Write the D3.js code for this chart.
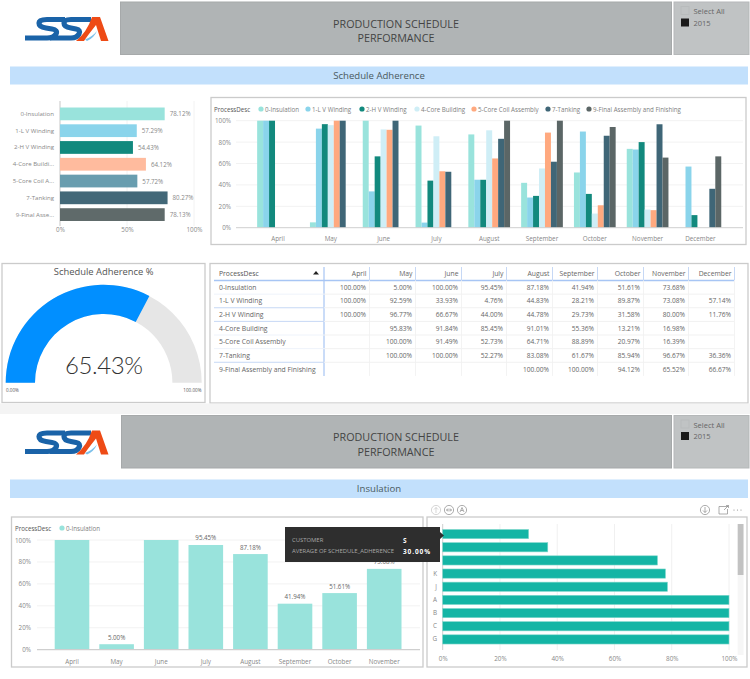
<!DOCTYPE html>
<html>
<head>
<meta charset="utf-8">
<script src="https://cdn.jsdelivr.net/npm/d3@7"></script>
<style>
    body { margin: 0; background: #fff; }
    svg { display: block; }
    text { font-family: "Open Sans", sans-serif; fill: #777; }
</style>
</head>
<body>
<div class="chart"></div>
<script>
// Data
const months = ["April", "May", "June", "July", "August", "September", "October", "November", "December"]
const processes = ["0-Insulation", "1-L V Winding", "2-H V Winding", "4-Core Building", "5-Core Coil Assembly", "7-Tanking", "9-Final Assembly and Finishing"]
const shortNames = ["0-Insulation", "1-L V Winding", "2-H V Winding", "4-Core Buildi...", "5-Core Coil A...", "7-Tanking", "9-Final Asse..."]
const averages = [78.12, 57.29, 54.43, 64.12, 57.72, 80.27, 78.13]
const insulation = [100, 5, 100, 95.45, 87.18, 41.94, 51.61, 73.68, null]
const lvWinding = [100, 92.59, 33.93, 4.76, 44.83, 28.21, 89.87, 73.08, 57.14]
const hvWinding = [100, 96.77, 66.67, 44, 44.78, 29.73, 31.58, 80, 11.76]
const coreBuilding = [null, 95.83, 91.84, 85.45, 91.01, 55.36, 13.21, 16.98, null]
const coilAssembly = [null, 100, 91.49, 52.73, 64.71, 88.89, 20.97, 16.39, null]
const tanking = [null, 100, 100, 52.27, 83.08, 61.67, 85.94, 96.67, 36.36]
const finalAssembly = [null, null, null, null, 100, 100, 94.12, 65.52, 66.67]
const adherence = 65.43
const customers = ["S", "", " ", "K", "J", "A", "B", "C", "G"]
const customerValues = [30, 36.7, 75, 77.8, 78.5, 100, 100, 100, 100]
const percentTicks = [0, 20, 40, 60, 80, 100]

const series = [insulation, lvWinding, hvWinding, coreBuilding, coilAssembly, tanking, finalAssembly]
const colors = ["#99E3DC", "#8AD4EB", "#12897D", "#CFEEF6", "#FFA97F", "#3F6677", "#5B6666"]
const avgColors = ["#99E3DC", "#8AD4EB", "#12897D", "#FFBB9E", "#689DAF", "#436878", "#5F6A6A"]
const pct = d => d3.format(".2f")(d) + "%"

let svg = d3.select(".chart")
    .append("svg")
    .attr("width", 750)
    .attr("height", 679)

function label(g, x, y, str, size, anchor, color) {
    return g.append("text")
        .attr("x", x)
        .attr("y", y)
        .attr("text-anchor", anchor || "start")
        .attr("dominant-baseline", "central")
        .attr("font-size", size)
        .style("fill", color || "#808080")
        .text(str)
}

function panel(x, y, w, h) {
    svg.append("rect")
        .attr("x", x).attr("y", y)
        .attr("width", w).attr("height", h)
        .attr("fill", "#fff")
        .attr("stroke", "#cbcbcb")
        .attr("stroke-width", 1.3)
}

function logo(dy) {
    let g = svg.append("g").attr("transform", `translate(0, ${dy})`)
    g.append("path")
        .attr("d", "M65,19.5 L47,19.5 Q39,19.5 39,23 Q39,27 46,28 L52,29 Q58,30 56,34 Q54,38 47,38 L25,38")
        .attr("fill", "none").attr("stroke", "#1A63A8").attr("stroke-width", 5.2)
    g.append("path")
        .attr("d", "M91,19.5 L71,19.5 Q64,19.5 64,23 Q64,27 71,28 L76,29 Q81,30 79,34 Q77,38 71,38 L50,38")
        .attr("fill", "none").attr("stroke", "#1A63A8").attr("stroke-width", 5.2)
    g.append("path")
        .attr("d", "M92,17 L100,17 L108.5,41 L101,41 L96,25 Q88,35 84,41 L76,41 Q87,32 92,17Z")
        .attr("fill", "#EE4B16")
    g.append("path")
        .attr("d", "M85,39.5 Q92,37 97,31 Q94,38 87,41Z")
        .attr("fill", "#7CC0EA")
}

function header(top, left) {
    svg.append("rect").attr("x", left).attr("y", top)
        .attr("width", 671.5 - left).attr("height", 52.5)
        .attr("fill", "#B0B4B5").attr("stroke", "#A6A9AA")
    svg.append("rect").attr("x", 674).attr("y", top)
        .attr("width", 75).attr("height", 52.5)
        .attr("fill", "#C0C3C4").attr("stroke", "#B5B8B9")
    label(svg, 396, top + 21.5, "PRODUCTION SCHEDULE", 10.75, "middle", "#444")
    label(svg, 396, top + 36, "PERFORMANCE", 10.75, "middle", "#444")
    label(svg, 693.5, top + 9, "Select All", 7.5, "start", "#666")
    label(svg, 693.5, top + 20.5, "2015", 7.5, "start", "#666")
    svg.append("rect").attr("x", 681).attr("y", top + 4.5).attr("width", 8).attr("height", 8)
        .attr("fill", "none").attr("stroke", "#b8bbbc")
    svg.append("rect").attr("x", 681).attr("y", top + 16.5).attr("width", 8).attr("height", 8)
        .attr("fill", "#1a1a1a")
}

function band(top, h, str) {
    svg.append("rect").attr("x", 10).attr("y", top)
        .attr("width", 738).attr("height", h)
        .attr("fill", "#C2E0FC")
    label(svg, 379, top + h / 2, str, 9.6, "middle", "#4a5a60")
}

function cleanAxis(g, size) {
    g.select(".domain").remove()
    g.selectAll("line").remove()
    g.selectAll("text").attr("font-size", size).style("fill", "#888")
}

// Gridlines, baseline and percent axis for the column charts
function columnFrame(yScale, x1, x2, labelX) {
    svg.append("g")
        .selectAll("line")
        .data(percentTicks.slice(1))
        .enter()
        .append("line")
        .attr("x1", x1).attr("x2", x2)
        .attr("y1", d => yScale(d)).attr("y2", d => yScale(d))
        .attr("stroke", "#f2f2f2")
    svg.append("g")
        .attr("transform", `translate(${labelX}, 0)`)
        .call(d3.axisLeft(yScale).tickValues(percentTicks).tickFormat(d => d + "%").tickSize(0).tickPadding(0))
        .call(cleanAxis, 6.3)
}

// ---------- First dashboard ----------
logo(0)
header(2, 120.5)
band(66.5, 18, "Schedule Adherence")

// Average adherence bars
let avgX = d3.scaleLinear().domain([0, 100]).range([60, 194])
let avgY = d3.scaleBand().domain(processes).range([105.5, 223]).paddingInner(0.24).paddingOuter(0.12)

svg.append("g")
    .selectAll("line")
    .data([50, 100])
    .enter()
    .append("line")
    .attr("x1", d => avgX(d)).attr("x2", d => avgX(d))
    .attr("y1", 101).attr("y2", 226)
    .attr("stroke", "#f2f2f2")
svg.append("line").attr("x1", 60).attr("x2", 60).attr("y1", 101).attr("y2", 226)
    .attr("stroke", "#d0d0d0").attr("stroke-width", 1.2)
svg.append("g")
    .selectAll("rect")
    .data(processes)
    .enter()
    .append("rect")
    .attr("x", avgX(0))
    .attr("y", d => avgY(d))
    .attr("width", (d, i) => avgX(averages[i]) - avgX(0))
    .attr("height", avgY.bandwidth())
    .attr("fill", (d, i) => avgColors[i])
svg.append("g")
    .selectAll("text")
    .data(processes)
    .enter()
    .append("text")
    .attr("x", (d, i) => avgX(averages[i]) + 5)
    .attr("y", d => avgY(d) + avgY.bandwidth() / 2)
    .attr("dominant-baseline", "central")
    .attr("font-size", 6.2)
    .style("fill", "#888")
    .text((d, i) => pct(averages[i]))
svg.append("g")
    .attr("transform", "translate(54, 0)")
    .call(d3.axisLeft(avgY).tickFormat((d, i) => shortNames[i]).tickSize(0).tickPadding(0))
    .call(cleanAxis, 6.1)
svg.append("g")
    .attr("transform", "translate(0, 228)")
    .call(d3.axisBottom(avgX).tickValues([0, 50, 100]).tickFormat(d => d + "%").tickSize(0).tickPadding(0))
    .call(cleanAxis, 6.3)

// Clustered columns per month
panel(211, 97.5, 535, 147)
let monthX = d3.scaleBand().domain(months).range([251.6, 726.8]).paddingInner(0.21).paddingOuter(0.105)
let seriesX = d3.scaleBand().domain(processes).range([0, monthX.bandwidth()])
let clusterY = d3.scaleLinear().domain([0, 100]).range([227.7, 120.7])

columnFrame(clusterY, 236, 743, 231)

svg.append("g")
    .selectAll("g")
    .data(series)
    .enter()
    .append("g")
    .attr("fill", (d, i) => colors[i])
    .selectAll("rect")
    .data((d, i) => months.map((m, j) => ({month: m, value: d[j], process: processes[i]})).filter(d => d.value !== null))
    .enter()
    .append("rect")
    .attr("x", d => monthX(d.month) + seriesX(d.process))
    .attr("y", d => clusterY(d.value))
    .attr("width", seriesX.bandwidth())
    .attr("height", d => clusterY(0) - clusterY(d.value))

svg.append("line").attr("x1", 236).attr("x2", 743).attr("y1", clusterY(0)).attr("y2", clusterY(0))
    .attr("stroke", "#cfcfcf")
svg.append("g")
    .attr("transform", "translate(0, 237)")
    .call(d3.axisBottom(monthX).tickSize(0).tickPadding(0))
    .call(cleanAxis, 6.3)

// Legend
label(svg, 214, 109, "ProcessDesc", 6.2, "start", "#555")
const legendX = [261, 308, 362, 417, 474, 548, 589]
processes.forEach((p, i) => {
    svg.append("circle").attr("cx", legendX[i]).attr("cy", 109).attr("r", 2.6).attr("fill", colors[i])
    label(svg, legendX[i] + 4, 109, p, 6.2)
})

// Gauge
panel(2, 263.5, 203, 139)
label(svg, 103.7, 271, "Schedule Adherence %", 9.4, "middle", "#555")
let gaugeAngle = d3.scaleLinear().domain([0, 100]).range([-Math.PI / 2, Math.PI / 2])
let gaugeArc = d3.arc().innerRadius(68.7).outerRadius(98)
let gauge = svg.append("g").attr("transform", "translate(103.7, 382.7)")
gauge.append("path")
    .attr("d", gaugeArc({startAngle: gaugeAngle(0), endAngle: gaugeAngle(100)}))
    .attr("fill", "#E6E6E6")
gauge.append("path")
    .attr("d", gaugeArc({startAngle: gaugeAngle(0), endAngle: gaugeAngle(adherence)}))
    .attr("fill", "#018FFF")
svg.append("text")
    .attr("x", 103.7).attr("y", 364)
    .attr("text-anchor", "middle")
    .attr("dominant-baseline", "central")
    .attr("font-size", 24)
    .style("font-family", "Lato")
    .style("font-weight", 300)
    .style("letter-spacing", "-0.4px")
    .style("fill", "#333")
    .text(pct(adherence))
label(svg, 6, 390, "0.00%", 4.6, "start", "#555")
label(svg, 201.5, 390, "100.00%", 4.6, "end", "#555")

// Matrix table
panel(210, 263.5, 538, 139.5)
const colRight = [369, 415, 461, 506, 552, 597, 643, 688, 734]
const rowStep = 13.63
const rowTop = 280.5
const blueRows = [2, 3, 6]

svg.append("line").attr("x1", 214).attr("x2", colRight[8]).attr("y1", rowTop).attr("y2", rowTop)
    .attr("stroke", "#A7C5F4").attr("stroke-width", 1.4)
svg.append("line").attr("x1", 324).attr("x2", 324).attr("y1", 267).attr("y2", rowTop + 7 * rowStep)
    .attr("stroke", "#A7C5F4").attr("stroke-width", 1.2)
colRight.forEach(x => {
    svg.append("line").attr("x1", x + 0.5).attr("x2", x + 0.5).attr("y1", 267).attr("y2", rowTop)
        .attr("stroke", "#C6D8F5")
    svg.append("line").attr("x1", x + 0.5).attr("x2", x + 0.5).attr("y1", rowTop).attr("y2", rowTop + 7 * rowStep)
        .attr("stroke", "#f3f3f3")
})
label(svg, 219, 273.5, "ProcessDesc", 6.8, "start", "#555")
svg.append("path").attr("d", "M313,274.5 L319,274.5 L316,271Z").attr("fill", "#222")
months.forEach((m, j) => label(svg, colRight[j] - 2.5, 273.5, m, 6.8, "end", "#666"))

processes.forEach((p, i) => {
    let y = rowTop + (i + 0.5) * rowStep
    if (i < 6) {
        svg.append("line").attr("x1", 324).attr("x2", colRight[8]).attr("y1", y + rowStep / 2).attr("y2", y + rowStep / 2)
            .attr("stroke", "#f1f1f1")
        svg.append("line").attr("x1", 214).attr("x2", 324).attr("y1", y + rowStep / 2).attr("y2", y + rowStep / 2)
            .attr("stroke", blueRows.includes(i + 1) ? "#C6D8F5" : "#EEF3FB")
    }
    label(svg, 219, y, p, 6.8, "start", "#666")
    months.forEach((m, j) => {
        if (series[i][j] !== null) label(svg, colRight[j] - 3, y, pct(series[i][j]), 6.6, "end", "#666")
    })
})

// ---------- Second dashboard ----------
svg.append("rect").attr("x", 0).attr("y", 403.5).attr("width", 750).attr("height", 10.5).attr("fill", "#F4F4F4")
logo(413.5)
header(415.5, 121.5)
band(479.5, 18.5, "Insulation")

// Insulation columns
panel(11.5, 517, 411.5, 150)
let insMonths = months.slice(0, 8)
let insValues = insulation.slice(0, 8)
let insX = d3.scaleBand().domain(insMonths).range([49.7, 406.5]).paddingInner(0.224).paddingOuter(0.112)
let insY = d3.scaleLinear().domain([0, 100]).range([649.7, 540])

columnFrame(insY, 37, 420, 31)

svg.append("g")
    .selectAll("rect")
    .data(insMonths)
    .enter()
    .append("rect")
    .attr("x", d => insX(d))
    .attr("y", (d, i) => insY(insValues[i]))
    .attr("width", insX.bandwidth())
    .attr("height", (d, i) => insY(0) - insY(insValues[i]))
    .attr("fill", colors[0])
// 100% columns carry no label in the picture
svg.append("g")
    .selectAll("text")
    .data(insMonths.filter((d, i) => insValues[i] < 100))
    .enter()
    .append("text")
    .attr("x", d => insX(d) + insX.bandwidth() / 2)
    .attr("y", d => insY(insValues[insMonths.indexOf(d)]) - 7)
    .attr("text-anchor", "middle")
    .attr("dominant-baseline", "central")
    .attr("font-size", 6.2)
    .style("fill", "#666")
    .text(d => pct(insValues[insMonths.indexOf(d)]))
svg.append("line").attr("x1", 37).attr("x2", 420).attr("y1", insY(0)).attr("y2", insY(0))
    .attr("stroke", "#cfcfcf").attr("stroke-width", 1.2)
svg.append("g")
    .attr("transform", "translate(0, 660)")
    .call(d3.axisBottom(insX).tickSize(0).tickPadding(0))
    .call(cleanAxis, 6.3)
label(svg, 15, 528, "ProcessDesc", 6.2, "start", "#555")
svg.append("circle").attr("cx", 62).attr("cy", 528).attr("r", 2.6).attr("fill", colors[0])
label(svg, 66, 528, processes[0], 6.2)

// Customer bars
panel(427, 517, 320, 150)
let custX = d3.scaleLinear().domain([0, 100]).range([442.7, 729])
let custY = d3.scaleBand().domain(customers).range([527.5, 646]).paddingInner(0.3).paddingOuter(0.15)

svg.append("g")
    .selectAll("line")
    .data(percentTicks.slice(1))
    .enter()
    .append("line")
    .attr("x1", d => custX(d)).attr("x2", d => custX(d))
    .attr("y1", 524).attr("y2", 650)
    .attr("stroke", "#f0f0f0")
svg.append("line").attr("x1", custX(0)).attr("x2", custX(0)).attr("y1", 524).attr("y2", 650)
    .attr("stroke", "#cfcfcf")
svg.append("g")
    .selectAll("rect")
    .data(customers)
    .enter()
    .append("rect")
    .attr("x", custX(0))
    .attr("y", d => custY(d))
    .attr("width", (d, i) => custX(customerValues[i]) - custX(0))
    .attr("height", custY.bandwidth())
    .attr("fill", "#14B5A5")
    .attr("stroke", "#7FD8CC")
    .attr("stroke-width", 0.6)
svg.append("g")
    .attr("transform", "translate(437, 0)")
    .call(d3.axisLeft(custY).tickSize(0).tickPadding(0))
    .call(cleanAxis, 6.3)
svg.append("g")
    .attr("transform", "translate(0, 657)")
    .call(d3.axisBottom(custX).tickValues(percentTicks).tickFormat(d => d + "%").tickSize(0).tickPadding(0))
    .call(cleanAxis, 6.3)

// Scrollbar
svg.append("rect").attr("x", 737.7).attr("y", 524).attr("width", 5.8).attr("height", 131).attr("fill", "#F6F6F6")
svg.append("rect").attr("x", 737.7).attr("y", 524).attr("width", 5.8).attr("height", 51).attr("fill", "#C2C2C2")

// Visual header icons
let icons = svg.append("g").attr("fill", "none").attr("stroke", "#8a8a8a").attr("stroke-width", 0.7)
;[[436, "#c4c4c4"], [449, "#8a8a8a"], [462, "#8a8a8a"], [705, "#8a8a8a"]].forEach(([x, c]) => {
    icons.append("circle").attr("cx", x).attr("cy", 510).attr("r", 4.6).attr("stroke", c)
})
icons.append("path").attr("d", "M436,513 V507.5 M434,509.5 L436,507.5 L438,509.5").attr("stroke", "#c4c4c4")
icons.append("path").attr("d", "M446.5,510 H451.5 M448,508.5 L446.5,510 L448,511.5 M450,508.5 L451.5,510 L450,511.5")
icons.append("path").attr("d", "M460,512 L462,507.5 L464,512 M461,510.5 H463")
icons.append("path").attr("d", "M705,507 V512.5 M703,510.5 L705,512.5 L707,510.5")
icons.append("path").attr("d", "M728,506.5 H719 V514 H727.5 V509")
icons.append("path").attr("d", "M724,510 L728.5,505.5 M726,505.5 H728.5 V508")
svg.append("g").attr("fill", "#8a8a8a")
    .selectAll("circle")
    .data([734, 737.5, 741])
    .enter()
    .append("circle")
    .attr("cx", d => d).attr("cy", 510).attr("r", 0.6)

// Tooltip sits on top of both charts
svg.append("path")
    .attr("d", "M285,527 H440 V532 L444,535.5 L440,539 V562 H285Z")
    .attr("fill", "#2E2E2E")
label(svg, 292, 540, "CUSTOMER", 5.9, "start", "#a8a8a8")
label(svg, 292, 551, "AVERAGE OF SCHEDULE_ADHERENCE", 5.9, "start", "#a8a8a8")
label(svg, 403, 540, customers[0], 6.5, "start", "#fff").style("font-weight", 700)
label(svg, 403, 551, pct(customerValues[0]), 6.5, "start", "#fff")
    .style("font-weight", 700)
    .style("letter-spacing", "0.9px")
</script>
</body>
</html>
